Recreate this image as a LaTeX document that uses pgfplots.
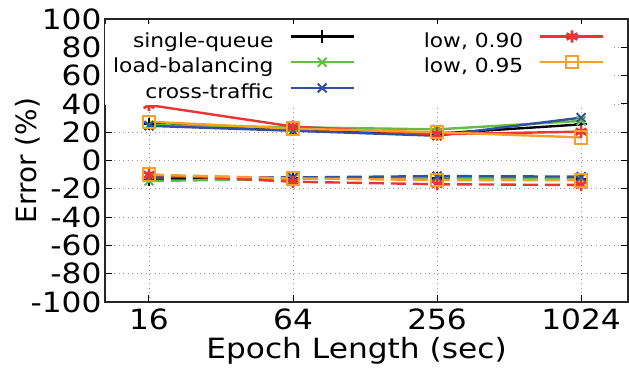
\documentclass[border=0pt]{standalone}
\usepackage{pgfplots}
\pgfplotsset{compat=1.18}
\usepackage{fontspec}
\setmainfont[FakeStretch=1.12]{DejaVu Sans}
\newfontfamily\ylfont{DejaVu Sans}
\definecolor{cgreen}{RGB}{102,187,68}
\definecolor{cblue}{RGB}{48,80,160}
\definecolor{cred}{RGB}{238,51,51}
\definecolor{corange}{RGB}{245,160,40}

\pgfplotstableread{
x sq lb ct lo90 lo95
16 26 25 24.5 39.2 27.4
64 21.5 23.5 21 24 22.5
256 19 22 17.5 18.5 20
1024 25.5 28 30.3 20.4 16.3
}\pos
\pgfplotstableread{
x sq lb ct lo90 lo95
16 -13.5 -14.5 -11.5 -10 -10
64 -12.5 -13 -12 -15 -12.6
256 -12.5 -12 -11 -16.8 -13.8
1024 -13 -12.5 -11.4 -17.3 -14
}\neg

\begin{document}
\begin{tikzpicture}
\begin{axis}[
  name=ax,
  scale only axis, width=523bp, height=283bp,
  xmode=log, log basis x=2, xmin=10.48, xmax=1608,
  ymin=-100, ymax=100,
  xtick={16,64,256,1024}, xticklabels={16,64,256,1024},
  ytick={-100,-80,-60,-40,-20,0,20,40,60,80,100},
  yticklabels={-100,-80,-60,-40,-20,0,20,40,60,80,100},
  xminorticks=false, yminorticks=false,
  tick align=inside, major tick length=7bp,
  grid=major, grid style={dash pattern=on 1bp off 3.5bp, gray!80, line width=0.8pt},
  axis line style={line width=1.2pt, black!85},
  tick style={line width=1pt, black},
  tick label style={font=\fontsize{28}{28}\selectfont},
  xticklabel style={yshift=-3bp},
  xlabel={Epoch Length (sec)},
  xlabel style={font=\fontsize{28}{28}\selectfont, at={(axis description cs:0.5,0)}, anchor=north, yshift=-32bp, xshift=-10bp},
  ylabel={Error (\%)},
  ylabel style={font=\ylfont\fontsize{28}{28}\selectfont, at={(axis description cs:-0.1482,0.5)}, anchor=center, rotate=0},
  legend columns=2,
  legend plot pos=right,
  legend cell align=right,
  legend image code/.code={
    \draw[yshift=2.5bp,mark repeat=2,mark phase=2,#1] plot coordinates {(0bp,0bp) (31.5bp,0bp) (63bp,0bp)};
  },
  legend style={draw=none, fill=white, inner xsep=8bp, inner ysep=2bp, column sep=16bp, row sep=0pt,
    /tikz/every even column/.append style={column sep=69bp},
    at={(axis description cs:0,1)}, anchor=north west, xshift=0bp, yshift=-5bp,
    font=\fontsize{19.5}{19.5}\selectfont,
    nodes={inner xsep=0pt, inner ysep=2bp, text height=19bp, text depth=2.7bp}},
  every axis plot/.append style={line width=2.4pt, mark size=6.2bp, mark options={solid, line width=2pt}},
]
\addlegendimage{black, mark=+, line width=2.4pt, mark size=6.2bp, mark options={solid, line width=2pt}}
\addlegendentry{single-queue}
\addlegendimage{cred, mark=asterisk, line width=2.4pt, mark size=6.2bp, mark options={solid, line width=2.6pt}}
\addlegendentry{low, 0.90}
\addlegendimage{cgreen, mark=x, line width=2.4pt, mark size=6.2bp, mark options={solid, line width=2pt}}
\addlegendentry{load-balancing}
\addlegendimage{corange, mark=square, line width=2.4pt, mark size=6.2bp, mark options={solid, line width=2pt}}
\addlegendentry{low, 0.95}
\addlegendimage{cblue, mark=x, line width=2.4pt, mark size=6.2bp, mark options={solid, line width=2pt}}
\addlegendentry{cross-traffic}

\addplot[forget plot, black, mark=+] table[x=x,y=sq] {\pos};
\addplot[forget plot, cgreen, mark=x] table[x=x,y=lb] {\pos};
\addplot[forget plot, cblue, mark=x] table[x=x,y=ct] {\pos};
\addplot[forget plot, cred, mark=asterisk, mark options={solid, line width=2.6pt}] table[x=x,y=lo90] {\pos};
\addplot[forget plot, corange, mark=square] table[x=x,y=lo95] {\pos};

\addplot[forget plot, black, mark=+, dash pattern=on 15bp off 7bp] table[x=x,y=sq] {\neg};
\addplot[forget plot, cgreen, mark=x, dash pattern=on 15bp off 7bp] table[x=x,y=lb] {\neg};
\addplot[forget plot, cblue, mark=x, dash pattern=on 15bp off 7bp] table[x=x,y=ct] {\neg};
\addplot[forget plot, cred, mark=asterisk, mark options={solid, line width=2.6pt}, dash pattern=on 15bp off 7bp] table[x=x,y=lo90] {\neg};
\addplot[forget plot, corange, mark=square, dash pattern=on 15bp off 7bp] table[x=x,y=lo95] {\neg};
\end{axis}
\pgfresetboundingbox
\path ([xshift=-105bp,yshift=-74bp]ax.south west) rectangle ([xshift=1bp,yshift=19bp]ax.north east);
\end{tikzpicture}
\end{document}
